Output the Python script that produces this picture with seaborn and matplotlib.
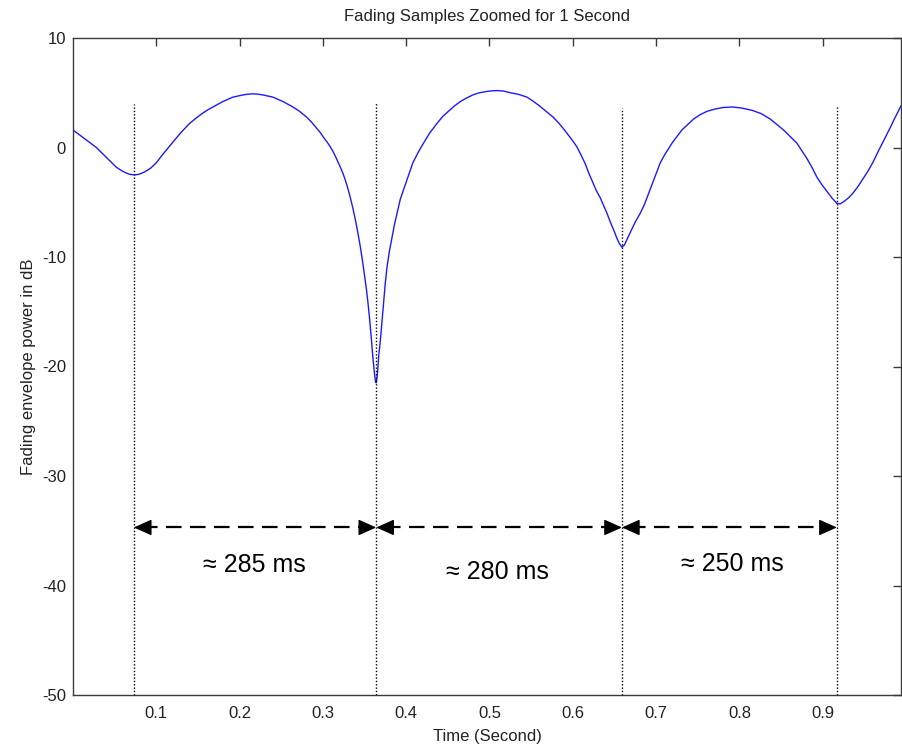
import matplotlib
matplotlib.use("Agg")
import matplotlib.pyplot as plt
import seaborn as sns
import pandas as pd

# ---- data ----
time_s = [0.000, 0.007, 0.014, 0.021, 0.028, 0.034, 0.040, 0.046, 0.052, 0.058,
          0.063, 0.068, 0.074, 0.079, 0.084, 0.089, 0.093, 0.100, 0.106, 0.113,
          0.120, 0.130, 0.140, 0.148, 0.155, 0.162, 0.168, 0.174, 0.180, 0.186,
          0.192, 0.198, 0.204, 0.210, 0.216, 0.222, 0.228, 0.234, 0.240, 0.246,
          0.252, 0.258, 0.264, 0.272, 0.280, 0.286, 0.292, 0.297, 0.301, 0.305,
          0.309, 0.312, 0.315, 0.318, 0.321, 0.324, 0.327, 0.330, 0.333, 0.336,
          0.339, 0.342, 0.345, 0.348, 0.350, 0.352, 0.354, 0.356, 0.358, 0.360,
          0.362, 0.363, 0.364, 0.365, 0.366, 0.367, 0.369, 0.371, 0.373, 0.375,
          0.377, 0.380, 0.383, 0.386, 0.389, 0.393, 0.398, 0.403, 0.408, 0.414,
          0.420, 0.428, 0.437, 0.444, 0.452, 0.458, 0.465, 0.472, 0.480, 0.487,
          0.495, 0.502, 0.509, 0.517, 0.525, 0.535, 0.545, 0.552, 0.560, 0.568,
          0.576, 0.583, 0.590, 0.595, 0.600, 0.605, 0.610, 0.615, 0.619, 0.624,
          0.628, 0.633, 0.637, 0.641, 0.645, 0.650, 0.653, 0.656, 0.659, 0.662,
          0.665, 0.670, 0.675, 0.681, 0.686, 0.690, 0.693, 0.697, 0.701, 0.705,
          0.710, 0.715, 0.720, 0.725, 0.731, 0.738, 0.745, 0.753, 0.761, 0.770,
          0.780, 0.792, 0.803, 0.815, 0.826, 0.837, 0.845, 0.853, 0.861, 0.869,
          0.875, 0.881, 0.887, 0.893, 0.899, 0.905, 0.911, 0.917, 0.921, 0.926,
          0.931, 0.936, 0.942, 0.948, 0.954, 0.960, 0.967, 0.975, 0.981, 0.986,
          0.990, 0.994]
power_db = [1.6, 1.2, 0.8, 0.4, 0.0, -0.45, -0.9, -1.35, -1.8, -2.1,
            -2.3, -2.45, -2.5, -2.45, -2.3, -2.1, -1.9, -1.4, -0.8, -0.15,
            0.5, 1.4, 2.2, 2.7, 3.1, 3.45, 3.7, 3.95, 4.2, 4.4,
            4.6, 4.7, 4.8, 4.87, 4.9, 4.87, 4.8, 4.7, 4.6, 4.4,
            4.2, 3.95, 3.7, 3.3, 2.8, 2.35, 1.8, 1.35, 0.9, 0.5,
            0.05, -0.35, -0.8, -1.3, -1.8, -2.35, -3.0, -3.75, -4.6, -5.55,
            -6.6, -7.8, -9.1, -10.6, -11.7, -12.8, -14.1, -15.6, -17.3, -19.2,
            -20.7, -21.3, -21.5, -21.0, -20.2, -19.0, -17.6, -15.8, -14.0, -12.3,
            -10.9, -9.4, -8.2, -7.0, -6.0, -4.7, -3.6, -2.5, -1.4, -0.5,
            0.3, 1.3, 2.2, 2.85, 3.4, 3.8, 4.2, 4.5, 4.8, 4.98,
            5.1, 5.17, 5.2, 5.15, 5.0, 4.85, 4.6, 4.25, 3.8, 3.3,
            2.8, 2.25, 1.6, 1.1, 0.6, 0.05, -0.7, -1.5, -2.3, -3.2,
            -3.9, -4.6, -5.3, -6.0, -6.8, -7.7, -8.3, -8.8, -9.1, -8.9,
            -8.4, -7.6, -6.8, -6.0, -5.2, -4.4, -3.8, -3.0, -2.2, -1.4,
            -0.7, -0.1, 0.5, 1.0, 1.6, 2.1, 2.6, 3.0, 3.3, 3.5,
            3.65, 3.7, 3.6, 3.4, 3.1, 2.6, 2.1, 1.6, 1.0, 0.4,
            -0.3, -1.0, -1.8, -2.7, -3.4, -4.0, -4.6, -5.1, -5.15, -4.9,
            -4.6, -4.2, -3.6, -2.9, -2.2, -1.4, -0.3, 0.9, 1.8, 2.6,
            3.2, 3.8]

marker_times = [0.073, 0.364, 0.659, 0.917]
marker_tops = [4.0, 4.1, 3.6, 3.7]
arrow_level = -34.7
interval_labels = ["\u2248 285 ms", "\u2248 280 ms", "\u2248 250 ms"]
label_x = [0.218, 0.509, 0.791]
label_y = [-38.1, -38.8, -38.0]

x_ticks = [0.1, 0.2, 0.3, 0.4, 0.5, 0.6, 0.7, 0.8, 0.9]
y_ticks = [10, 0, -10, -20, -30, -40, -50]

# ---- style ----
sns.set_style("white")
plt.rcParams['font.family'] = ['Liberation Sans', 'DejaVu Sans']
edge = '#3a3a3a'
txt = '#222222'

fig = plt.figure(figsize=(9.02, 7.49), dpi=100)
ax = fig.add_axes([73 / 902, 54 / 749, 828 / 902, 657 / 749])

df = pd.DataFrame({"t": time_s, "p": power_db})
sns.lineplot(data=df, x="t", y="p", ax=ax, color='#1a1aff', linewidth=1.0,
             sort=False, estimator=None)

# dotted markers
for xt, top in zip(marker_times, marker_tops):
    ax.plot([xt, xt], [-50, top], color='black', linestyle=(0, (1, 1.4)),
            linewidth=1.0)

# double arrows
for a, b in zip(marker_times[:-1], marker_times[1:]):
    ax.plot([a + 0.01, b - 0.01], [arrow_level, arrow_level], color='black',
            linewidth=1.6, dashes=(7.0, 3.8))
    for tip, tail in ((a, a + 0.02), (b, b - 0.02)):
        ax.annotate("", xy=(tip, arrow_level), xytext=(tail, arrow_level),
                    arrowprops=dict(arrowstyle="-|>,head_length=0.85,head_width=0.38",
                                    color='black', lw=1.0, shrinkA=0, shrinkB=0,
                                    mutation_scale=13))

for s, lx, ly in zip(interval_labels, label_x, label_y):
    ax.text(lx, ly, s, ha='center', va='center', fontsize=18, color='black')

ax.set_xlim(0, 0.994)
ax.set_ylim(-50, 10)
ax.set_xticks(x_ticks)
ax.set_xticklabels([f"{v:g}" for v in x_ticks])
ax.set_yticks(y_ticks)
ax.set_yticklabels([f"{v:g}" for v in y_ticks])

ax.tick_params(direction='in', length=6, width=1, colors=edge, labelcolor=txt,
               labelsize=12, top=True, right=True)
ax.tick_params(axis='x', pad=8)
ax.tick_params(axis='y', pad=5)
for sp in ax.spines.values():
    sp.set_visible(True)
    sp.set_color(edge)
    sp.set_linewidth(1.0)

ax.set_xlabel("Time (Second)", fontsize=12, color=txt, labelpad=6)
ax.set_ylabel("Fading envelope power in dB", fontsize=12, color=txt, labelpad=4)
ax.set_title("Fading Samples Zoomed for 1 Second", fontsize=12, color=txt, pad=12)

fig.savefig("out.png", dpi=100, facecolor='white')
